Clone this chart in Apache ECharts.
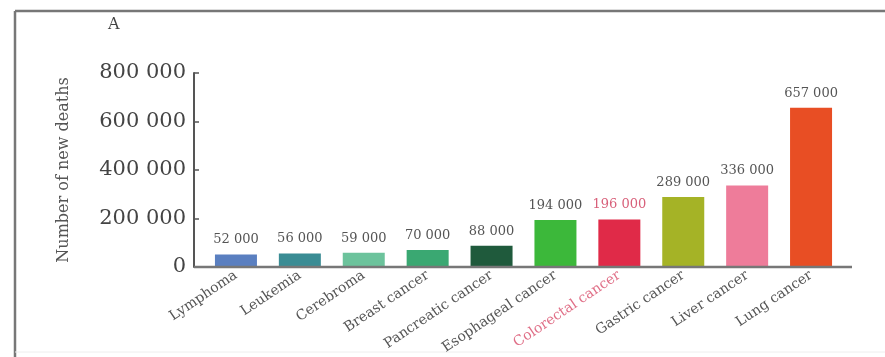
<!DOCTYPE html>
<html>
<head>
<meta charset="utf-8">
<script src="https://cdn.jsdelivr.net/npm/echarts@6/dist/echarts.min.js"></script>
<style>html,body{margin:0;padding:0;background:#fff}#c{width:885px;height:357px}</style>
</head>
<body>
<div id="c"></div>
<script>
const categories = ['Lymphoma','Leukemia','Cerebroma','Breast cancer','Pancreatic cancer','Esophageal cancer','Colorectal cancer','Gastric cancer','Liver cancer','Lung cancer'];
const deaths = [52000, 56000, 59000, 70000, 88000, 194000, 196000, 289000, 336000, 657000];
const barColors = ['#5a7fc0','#3a8c94','#6cc39c','#3aa872','#1f5a3c','#3cb83a','#e02a48','#a5b326','#ee7c9a','#e84e24'];
const highlight = 'Colorectal cancer';
const yTicks = [0, 200000, 400000, 600000, 800000];

const fmt = v => String(v).replace(/\B(?=(\d{3})+(?!\d))/g, ' ');
const serif = 'DejaVu Serif';

const chart = echarts.init(document.getElementById('c'), null, {renderer: 'canvas'});
chart.setOption({
  animation: false,
  backgroundColor: '#fff',
  grid: {left: 204, right: 42, top: 73, bottom: 90, containLabel: false},
  xAxis: {
    type: 'category',
    data: categories.map(c => ({value: c, textStyle: {color: c === highlight ? '#e07088' : '#555'}})),
    axisLine: {show: false},
    axisTick: {show: true, inside: true, alignWithLabel: true, length: 3, lineStyle: {color: '#333', width: 2}},
    axisLabel: {rotate: 34, fontFamily: serif, fontSize: 14, margin: 7, interval: 0}
  },
  yAxis: {
    type: 'value',
    min: yTicks[0], max: yTicks[yTicks.length - 1], interval: 200000,
    offset: 10,
    name: 'Number of new deaths',
    nameLocation: 'middle',
    nameGap: 122,
    nameTextStyle: {fontFamily: serif, fontSize: 16, color: '#555'},
    axisLine: {show: true, lineStyle: {color: '#555', width: 2}},
    axisTick: {show: true, inside: true, length: 5, lineStyle: {color: '#555', width: 1.5}},
    splitLine: {show: false},
    axisLabel: {formatter: v => fmt(v), fontFamily: serif, fontSize: 21, color: '#444', margin: 8}
  },
  series: [{
    type: 'bar',
    data: deaths.map((v, i) => ({value: v, itemStyle: {color: barColors[i]},
      label: {color: categories[i] === highlight ? '#d8607a' : '#555'}})),
    barWidth: 42,
    label: {show: true, position: 'top', distance: 8, formatter: p => fmt(p.value), fontFamily: serif, fontSize: 13}
  }],
  graphic: [
    {type: 'line', shape: {x1: 15, y1: 11, x2: 885, y2: 11}, style: {stroke: '#777', lineWidth: 2.5}},
    {type: 'line', shape: {x1: 15, y1: 11, x2: 15, y2: 357}, style: {stroke: '#777', lineWidth: 2.5}},
    {type: 'line', shape: {x1: 15, y1: 352, x2: 885, y2: 352}, style: {stroke: '#eee', lineWidth: 1}},
    {type: 'text', left: 108, top: 17, style: {text: 'A', fontFamily: serif, fontSize: 16, fill: '#444'}}
  ]
});
// baseline extending from the y-axis to slightly past the last band
const y0 = chart.convertToPixel({yAxisIndex: 0}, 0);
const rect = chart.getModel().getComponent('grid').coordinateSystem.getRect();
chart.setOption({graphic: [{}, {}, {}, {}, {type: 'line', z: 5, shape: {x1: rect.x - 10, y1: y0, x2: rect.x + rect.width + 9, y2: y0}, style: {stroke: '#777', lineWidth: 2.5}}]});
</script>
</body>
</html>
